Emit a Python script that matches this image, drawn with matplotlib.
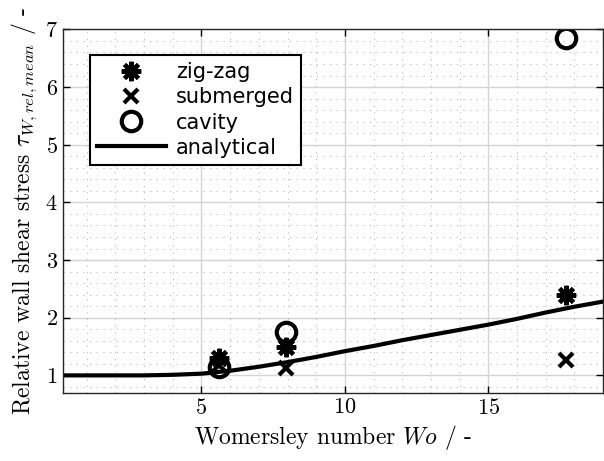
import matplotlib
matplotlib.use("Agg")
import matplotlib.pyplot as plt
from matplotlib.ticker import MultipleLocator

plt.rcParams['mathtext.fontset'] = 'cm'
plt.rcParams['axes.formatter.use_mathtext'] = True

# measured points
wo_exp = [5.6, 7.95, 17.7]
zigzag = [1.30, 1.50, 2.40]
submerged = [1.18, 1.13, 1.27]
cavity = [1.14, 1.76, 6.85]

# analytical curve
wo_ana = [0.16, 1, 2, 3, 4, 5, 6, 7, 8, 9, 10, 11, 12, 13, 14, 15, 16, 17, 18, 19]
tau_ana = [1.0, 1.0, 1.0, 1.0, 1.01, 1.03, 1.08, 1.15, 1.23, 1.32, 1.42, 1.51,
           1.61, 1.70, 1.79, 1.88, 1.98, 2.09, 2.19, 2.28]

x_ticks = [5, 10, 15]
y_ticks = [1, 2, 3, 4, 5, 6, 7]

fig = plt.figure(figsize=(6.04, 4.61), dpi=100)
ax = fig.add_axes([0.1038, 0.1482, 0.8945, 0.788])

ax.plot(wo_exp, zigzag, linestyle='none', marker=(8, 2, 0), markersize=14,
        markeredgewidth=3, color='k', label='zig-zag')
ax.plot(wo_exp, submerged, linestyle='none', marker='x', markersize=10,
        markeredgewidth=3, color='k', label='submerged')
ax.plot(wo_exp, cavity, linestyle='none', marker='o', markersize=14,
        markeredgewidth=3, markerfacecolor='none', color='k', label='cavity')
ax.plot(wo_ana, tau_ana, color='k', linewidth=3, label='analytical')

ax.set_xlim(0.16, 19)
ax.set_ylim(0.7, 7)
ax.set_xticks(x_ticks)
ax.set_yticks(y_ticks)
ax.xaxis.set_minor_locator(MultipleLocator(1))
ax.yaxis.set_minor_locator(MultipleLocator(0.2))

ax.grid(True, which='major', color='#d4d4d4', linewidth=1.0, linestyle='-')
ax.grid(True, which='minor', color='#b8b8b8', linewidth=0.8, linestyle=(0, (1, 5)))
ax.set_axisbelow(True)

ax.tick_params(which='both', direction='in', top=True, right=True)
ax.tick_params(which='major', length=5, width=1, labelsize=16)
ax.tick_params(which='minor', length=0)
for lab in ax.get_xticklabels() + ax.get_yticklabels():
    lab.set_family('cmr10')
for s in ax.spines.values():
    s.set_color('#262626')
    s.set_linewidth(1.0)

ax.set_xlabel('Womersley number $Wo$ / -', family='cmr10', fontsize=17)
ax.set_ylabel(r'Relative wall shear stress $\tau_{W,rel,mean}$ / -',
              family='cmr10', fontsize=17)

leg = ax.legend(loc='upper left', bbox_to_anchor=(0.05, 0.93), fontsize=15,
                fancybox=False, framealpha=1, edgecolor='k', handlelength=3.3,
                borderpad=0.35, labelspacing=0.25, handletextpad=0.5,
                borderaxespad=0)
leg.get_frame().set_linewidth(1.5)

fig.savefig('out.png', dpi=100)
